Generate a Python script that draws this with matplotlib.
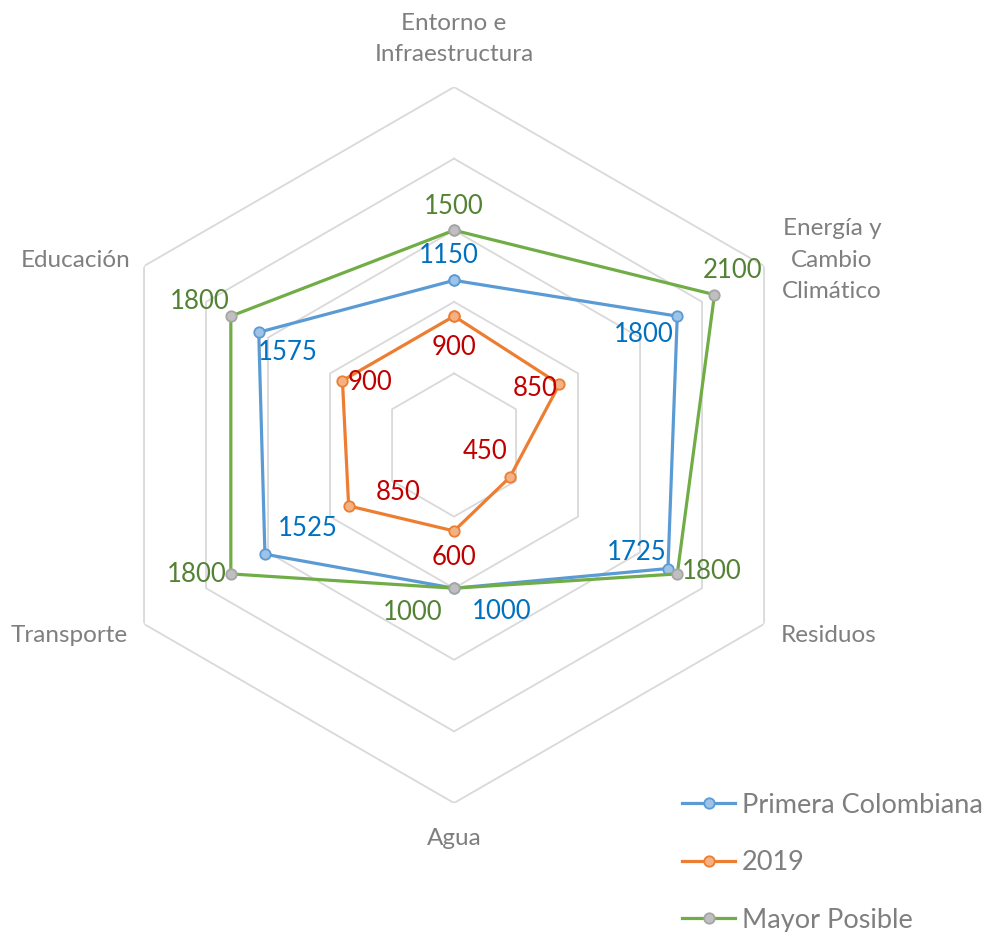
import numpy as np
import matplotlib.pyplot as plt

# datos
categorias = ['Entorno e\nInfraestructura', 'Energía y\nCambio\nClimático', 'Residuos',
              'Agua', 'Transporte', 'Educación']
primera_colombiana = [1150, 1800, 1725, 1000, 1525, 1575]
anio_2019 = [900, 850, 450, 600, 850, 900]
mayor_posible = [1500, 2100, 1800, 1000, 1800, 1800]
niveles = [500, 1000, 1500, 2000, 2500]

plt.rcParams['font.family'] = ['Lato', 'DejaVu Sans']

fig = plt.figure(figsize=(9.83, 9.32), dpi=100)
ax = fig.add_axes([0.0977, 0.1384, 0.7284, 0.7682], projection='polar')
ax.set_theta_offset(np.pi / 2)
ax.set_theta_direction(-1)
ax.set_ylim(0, 2500)
ax.axis('off')

n = len(categorias)
angulos = np.linspace(0, 2 * np.pi, n, endpoint=False)
ang_cerrado = np.append(angulos, angulos[0])

# rejilla hexagonal
for nv in niveles:
    ax.plot(ang_cerrado, [nv] * (n + 1), color='#D9D9D9', lw=1.3, zorder=1)

series = [
    ('Primera Colombiana', primera_colombiana, '#5B9BD5', '#9DC3E6', '#5B9BD5'),
    ('2019', anio_2019, '#ED7D31', '#F4B183', '#ED7D31'),
    ('Mayor Posible', mayor_posible, '#70AD47', '#BFBFBF', '#A5A5A5'),
]
for nombre, vals, c, cara, borde in series:
    ax.plot(ang_cerrado, vals + vals[:1], color=c, lw=2.3, marker='o', ms=7.5,
            mfc=cara, mec=borde, mew=1.3, label=nombre, zorder=3)

# etiquetas de datos (desplazamientos en px)
desp_verde = [(0, 24), (18, 24), (34, 2), (-41, -24), (-34, -1), (-31, 15)]
desp_azul = [(-5, 25), (-34, -18), (-31, 16), (48, -23), (43, 26), (29, -20)]
desp_rojo = [(0, -31), (-24, -4), (-25, 26), (0, -27), (50, 13), (28, -2)]
etiquetas = [(mayor_posible, desp_verde, '#548235'),
             (primera_colombiana, desp_azul, '#0070C0'),
             (anio_2019, desp_rojo, '#C00000')]
for vals, desp, col in etiquetas:
    for a, v, (dx, dy) in zip(angulos, vals, desp):
        ax.annotate(str(v), xy=(a, v), xytext=(dx * 0.72, dy * 0.72),
                    textcoords='offset points', ha='center', va='center',
                    fontsize=18.5, color=col, zorder=4)

# etiquetas de categorias
desp_cat = [(0, 22, 'center', 'bottom'), (18, 6, 'left', 'center'),
            (17, -11, 'left', 'center'), (0, -25, 'center', 'top'),
            (-16, -11, 'right', 'center'), (-14, 6, 'right', 'center')]
for a, cat, (dx, dy, ha, va) in zip(angulos, categorias, desp_cat):
    ax.annotate(cat, xy=(a, 2500), xytext=(dx * 0.72, dy * 0.72),
                textcoords='offset points', ha=ha, va=va, fontsize=17.5,
                color='#7F7F7F', linespacing=1.6, multialignment='center')

leg = fig.legend(loc='upper left', bbox_to_anchor=(0.683, 0.161), frameon=False,
                 fontsize=19.5, labelspacing=1.2, handlelength=1.95,
                 handletextpad=0.26, borderaxespad=0)
for t in leg.get_texts():
    t.set_color('#7F7F7F')

fig.savefig('out.png', dpi=100)
